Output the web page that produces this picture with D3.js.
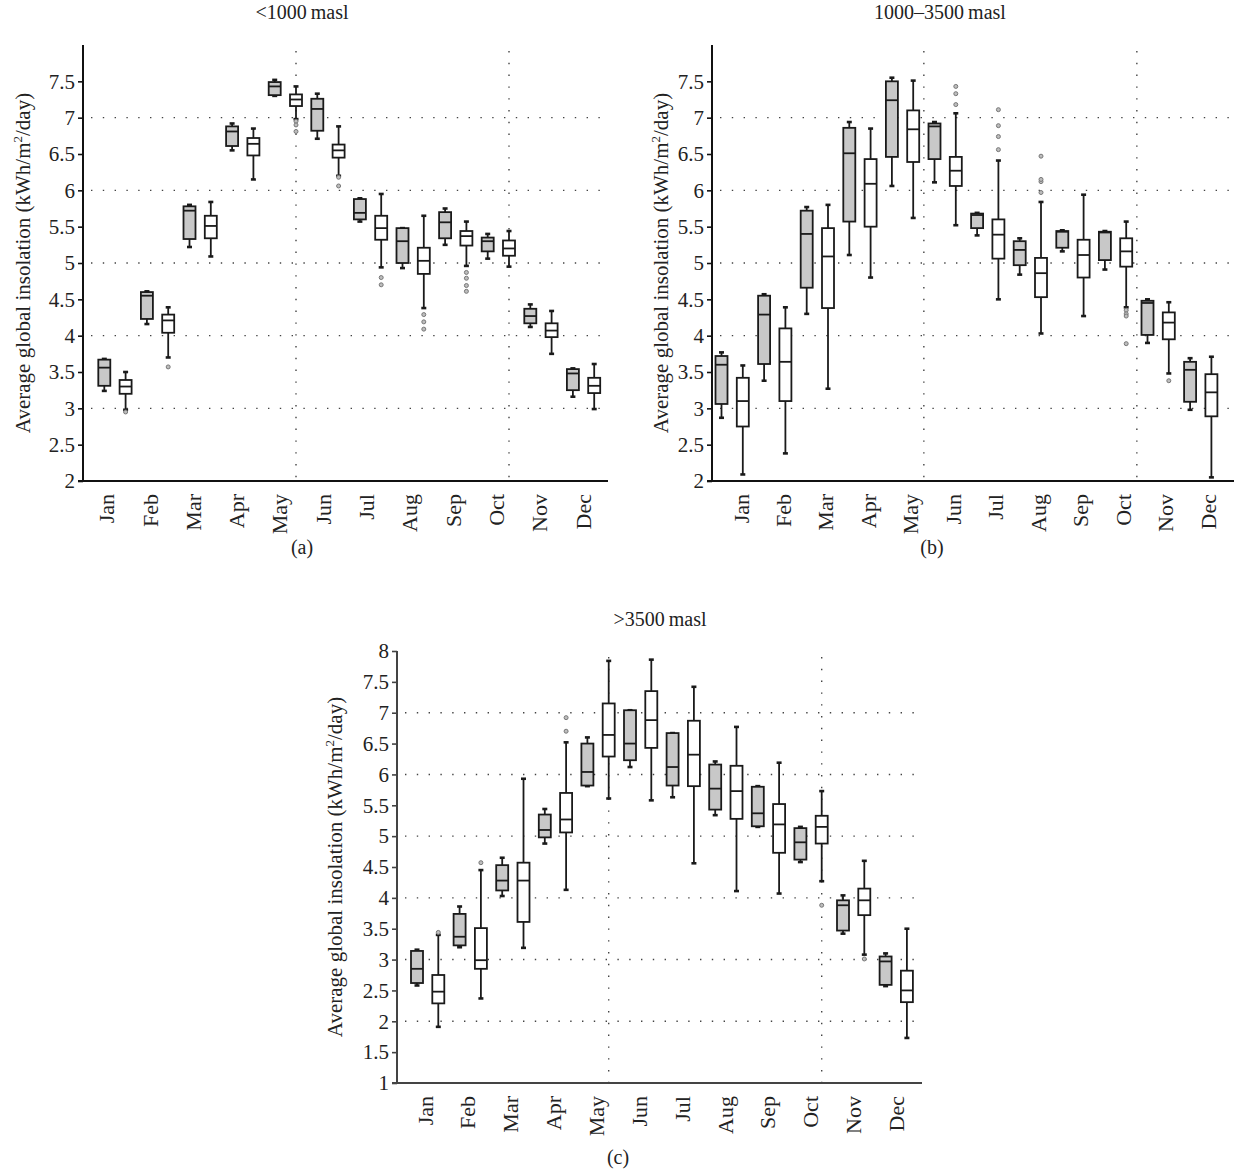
<!DOCTYPE html>
<html lang="en">
<head>
<meta charset="UTF-8">
<title>Average global insolation by altitude band</title>
<script src="https://d3js.org/d3.v7.min.js"></script>
<style>
  body { margin: 0; background: #fff; }
  svg { display: block; font-family: 'Liberation Serif', 'Times New Roman', serif; fill: #222; }
  .grid { stroke: #444; stroke-width: 1.4; stroke-dasharray: 1.4 10.4; fill: none; }
  .box { stroke: #1a1a1a; stroke-width: 1.8; }
  .whisker { stroke: #1a1a1a; stroke-width: 1.8; }
  .cap { stroke: #1a1a1a; stroke-width: 2.6; }
  .outlier { fill: #bdbdbd; stroke: #777; stroke-width: 1; }
</style>
</head>
<body>
<svg id="chart" width="1234" height="1170"></svg>
<script>
const months = ["Jan", "Feb", "Mar", "Apr", "May", "Jun", "Jul", "Aug", "Sep", "Oct", "Nov", "Dec"];

// each row: [lower whisker, q1, median, q3, upper whisker]
const lowGrey = [
  [3.24, 3.31, 3.56, 3.67, 3.68], [4.16, 4.23, 4.55, 4.60, 4.61], [5.22, 5.33, 5.72, 5.78, 5.80],
  [6.55, 6.61, 6.81, 6.88, 6.92], [7.30, 7.31, 7.43, 7.49, 7.52], [6.71, 6.82, 7.12, 7.26, 7.33],
  [5.57, 5.60, 5.69, 5.88, 5.89], [4.93, 5.00, 5.30, 5.48, 5.48], [5.25, 5.34, 5.56, 5.70, 5.75],
  [5.06, 5.16, 5.30, 5.35, 5.40], [4.12, 4.17, 4.27, 4.37, 4.43], [3.16, 3.25, 3.48, 3.54, 3.55]
];
const lowWhite = [
  [2.98, 3.20, 3.30, 3.39, 3.50], [3.70, 4.04, 4.21, 4.29, 4.39], [5.09, 5.34, 5.51, 5.65, 5.84],
  [6.15, 6.48, 6.64, 6.72, 6.85], [6.98, 7.16, 7.25, 7.32, 7.43], [6.20, 6.45, 6.55, 6.63, 6.88],
  [4.94, 5.32, 5.48, 5.65, 5.95], [4.38, 4.85, 5.03, 5.21, 5.65], [4.96, 5.24, 5.37, 5.44, 5.57],
  [4.95, 5.10, 5.20, 5.31, 5.44], [3.75, 3.98, 4.07, 4.17, 4.34], [2.99, 3.21, 3.31, 3.42, 3.61]
];
const lowOutliers = [
  [0, 2.95], [1, 3.57], [4, 6.95], [4, 6.90], [4, 6.81], [5, 6.18], [5, 6.06],
  [6, 4.80], [6, 4.70], [7, 4.29], [7, 4.19], [7, 4.09],
  [8, 4.87], [8, 4.79], [8, 4.69], [8, 4.61]
];

const midGrey = [
  [2.87, 3.06, 3.60, 3.72, 3.77], [3.38, 3.61, 4.29, 4.55, 4.57], [4.30, 4.66, 5.40, 5.72, 5.77],
  [5.11, 5.57, 6.51, 6.86, 6.94], [6.06, 6.46, 7.24, 7.50, 7.55], [6.11, 6.43, 6.88, 6.92, 6.94],
  [5.38, 5.48, 5.66, 5.68, 5.69], [4.84, 4.97, 5.18, 5.30, 5.34], [5.16, 5.21, 5.43, 5.44, 5.45],
  [4.91, 5.04, 5.42, 5.43, 5.44], [3.90, 4.01, 4.45, 4.48, 4.50], [2.98, 3.09, 3.53, 3.64, 3.69]
];
const midWhite = [
  [2.09, 2.75, 3.10, 3.42, 3.59], [2.38, 3.10, 3.64, 4.10, 4.39], [3.27, 4.38, 5.09, 5.48, 5.80],
  [4.80, 5.50, 6.09, 6.43, 6.85], [5.62, 6.39, 6.84, 7.10, 7.51], [5.52, 6.06, 6.27, 6.46, 7.06],
  [4.50, 5.06, 5.39, 5.60, 6.41], [4.03, 4.53, 4.86, 5.07, 5.84], [4.27, 4.80, 5.11, 5.32, 5.94],
  [4.39, 4.95, 5.16, 5.34, 5.57], [3.48, 3.95, 4.18, 4.32, 4.46], [2.05, 2.89, 3.22, 3.47, 3.71]
];
const midOutliers = [
  [5, 7.18], [5, 7.33], [5, 7.43], [6, 6.56], [6, 6.74], [6, 6.89], [6, 7.11],
  [7, 5.97], [7, 6.12], [7, 6.15], [7, 6.47], [9, 4.35], [9, 4.30], [9, 4.27], [9, 3.89], [10, 3.38]
];

const highGrey = [
  [2.58, 2.62, 2.85, 3.14, 3.16], [3.20, 3.23, 3.37, 3.74, 3.86], [4.03, 4.12, 4.28, 4.53, 4.65],
  [4.88, 4.98, 5.10, 5.35, 5.44], [5.81, 5.82, 6.04, 6.50, 6.60], [6.12, 6.23, 6.50, 7.04, 7.04],
  [5.63, 5.82, 6.12, 6.67, 6.67], [5.34, 5.43, 5.77, 6.16, 6.21], [5.15, 5.16, 5.37, 5.80, 5.81],
  [4.58, 4.62, 4.90, 5.13, 5.15], [3.42, 3.47, 3.88, 3.96, 4.04], [2.57, 2.59, 2.97, 3.05, 3.10]
];
const highWhite = [
  [1.91, 2.29, 2.48, 2.75, 3.40], [2.37, 2.85, 2.99, 3.51, 4.45], [3.19, 3.61, 4.28, 4.57, 5.93],
  [4.13, 5.06, 5.27, 5.70, 6.52], [5.61, 6.29, 6.64, 7.15, 7.84], [5.58, 6.43, 6.88, 7.35, 7.86],
  [4.56, 5.81, 6.32, 6.87, 7.42], [4.11, 5.28, 5.73, 6.14, 6.77], [4.07, 4.73, 5.19, 5.52, 6.19],
  [4.27, 4.88, 5.15, 5.33, 5.73], [3.08, 3.72, 3.96, 4.15, 4.60], [1.73, 2.31, 2.50, 2.82, 3.50]
];
const highOutliers = [[0, 3.44], [1, 4.57], [3, 6.70], [3, 6.92], [9, 3.88], [10, 3.01]];

const yTicksAB = d3.range(2, 7.51, 0.5);
const yTicksC = d3.range(1, 8.01, 0.5);

const panels = [
  { title: "<1000\u2009masl", tag: "(a)", grey: lowGrey, white: lowWhite, outliers: lowOutliers,
    x0: 83, x1: 608, top: 45, bottom: 481, yDomain: [2, 8], ticks: yTicksAB, grid: [3, 4, 5, 6, 7],
    firstBox: 104.3, labelRange: [106.7, 583], vSlots: [9, 19],
    titleX: 302, titleY: 19, tagX: 302, tagY: 554, yLabelX: 30, axisColor: "#111" },
  { title: "1000\u20133500\u2009masl", tag: "(b)", grey: midGrey, white: midWhite, outliers: midOutliers,
    x0: 712, x1: 1240, top: 45, bottom: 481, yDomain: [2, 8], ticks: yTicksAB, grid: [3, 4, 5, 6, 7],
    firstBox: 721.5, labelRange: [741, 1208], vSlots: [9.5, 19.5],
    titleX: 940, titleY: 19, tagX: 932, tagY: 554, yLabelX: 668, axisColor: "#111" },
  { title: ">3500\u2009masl", tag: "(c)", grey: highGrey, white: highWhite, outliers: highOutliers,
    x0: 397, x1: 922, top: 651, bottom: 1083, yDomain: [1, 8], ticks: yTicksC, grid: [2, 3, 4, 5, 6, 7],
    firstBox: 417, labelRange: [425, 896.5], vSlots: [9, 19],
    titleX: 660, titleY: 626, tagX: 618, tagY: 1164, yLabelX: 342, axisColor: "#444" }
];

const svg = d3.select("#chart");
svg.append("rect").attr("width", 1234).attr("height", 1170).attr("fill", "#fff");

function drawPanel(p) {
  const g = svg.append("g");
  const y = d3.scaleLinear().domain(p.yDomain).range([p.bottom, p.top]);
  // 24 box slots: grey then white for every month
  const slot = d3.scaleLinear().domain([0, 23]).range([p.firstBox, p.firstBox + 23 * 21.3]);
  const xLabel = d3.scalePoint().domain(months).range(p.labelRange);
  const boxW = 12;

  // dotted grid
  g.selectAll(".hgrid").data(p.grid).join("line")
    .attr("class", "grid")
    .attr("x1", p.x0 + 8).attr("x2", p.x1)
    .attr("y1", d => y(d)).attr("y2", d => y(d));
  g.selectAll(".vgrid").data(p.vSlots).join("line")
    .attr("class", "grid")
    .attr("x1", d => slot(d)).attr("x2", d => slot(d))
    .attr("y1", p.top + 6).attr("y2", p.bottom);

  // boxes
  const boxes = [];
  months.forEach((m, i) => {
    boxes.push({ s: p.grey[i], x: slot(2 * i), fill: "#c8c8c8" });
    boxes.push({ s: p.white[i], x: slot(2 * i + 1), fill: "#fff" });
  });
  const b = g.selectAll(".bx").data(boxes).join("g");
  b.append("line").attr("class", "whisker")
    .attr("x1", d => d.x).attr("x2", d => d.x)
    .attr("y1", d => y(d.s[4])).attr("y2", d => y(d.s[0]));
  b.append("line").attr("class", "cap")
    .attr("x1", d => d.x - 2.5).attr("x2", d => d.x + 2.5)
    .attr("y1", d => y(d.s[4])).attr("y2", d => y(d.s[4]));
  b.append("line").attr("class", "cap")
    .attr("x1", d => d.x - 2.5).attr("x2", d => d.x + 2.5)
    .attr("y1", d => y(d.s[0])).attr("y2", d => y(d.s[0]));
  b.append("rect").attr("class", "box")
    .attr("x", d => d.x - boxW / 2).attr("width", boxW)
    .attr("y", d => y(d.s[3])).attr("height", d => y(d.s[1]) - y(d.s[3]))
    .attr("fill", d => d.fill);
  b.append("line").attr("class", "box")
    .attr("x1", d => d.x - boxW / 2).attr("x2", d => d.x + boxW / 2)
    .attr("y1", d => y(d.s[2])).attr("y2", d => y(d.s[2]));

  g.selectAll(".outlier").data(p.outliers).join("circle")
    .attr("class", "outlier")
    .attr("cx", d => slot(2 * d[0] + 1)).attr("cy", d => y(d[1]))
    .attr("r", 2);

  // axes
  const yAxis = d3.axisLeft(y).tickValues(p.ticks).tickSize(5).tickSizeOuter(0).tickPadding(3)
    .tickFormat(d3.format("~g"));
  const ya = g.append("g").attr("transform", `translate(${p.x0},0)`).call(yAxis);
  ya.select(".domain").remove();
  ya.selectAll(".tick line").attr("stroke", p.axisColor).attr("stroke-width", 1.6);
  ya.selectAll(".tick text").attr("font-size", 21).attr("fill", "#222")
    .attr("font-family", "'Liberation Serif', serif");
  g.append("line").attr("x1", p.x0).attr("x2", p.x0).attr("y1", p.top).attr("y2", p.bottom)
    .attr("stroke", p.axisColor).attr("stroke-width", 2);
  g.append("line").attr("x1", p.x0 - 5).attr("x2", p.x1).attr("y1", p.bottom).attr("y2", p.bottom)
    .attr("stroke", p.axisColor).attr("stroke-width", 2);

  // month labels
  g.selectAll(".mlab").data(months).join("text")
    .attr("transform", d => `translate(${xLabel(d)},${p.bottom + 13}) rotate(-90)`)
    .attr("text-anchor", "end").attr("dominant-baseline", "central")
    .attr("font-size", 22).text(d => d);

  // y label
  const yl = g.append("text")
    .attr("transform", `translate(${p.yLabelX},${(p.top + p.bottom) / 2}) rotate(-90)`)
    .attr("text-anchor", "middle").attr("font-size", 21);
  yl.append("tspan").text("Average global insolation (kWh/m");
  yl.append("tspan").attr("font-size", 13).attr("dy", -8).text("2");
  yl.append("tspan").attr("dy", 8).text("/day)");

  svg.append("text").attr("x", p.titleX).attr("y", p.titleY)
    .attr("text-anchor", "middle").attr("font-size", 20).text(p.title);
  svg.append("text").attr("x", p.tagX).attr("y", p.tagY)
    .attr("text-anchor", "middle").attr("font-size", 20).text(p.tag);
}

panels.forEach(drawPanel);
</script>
</body>
</html>
